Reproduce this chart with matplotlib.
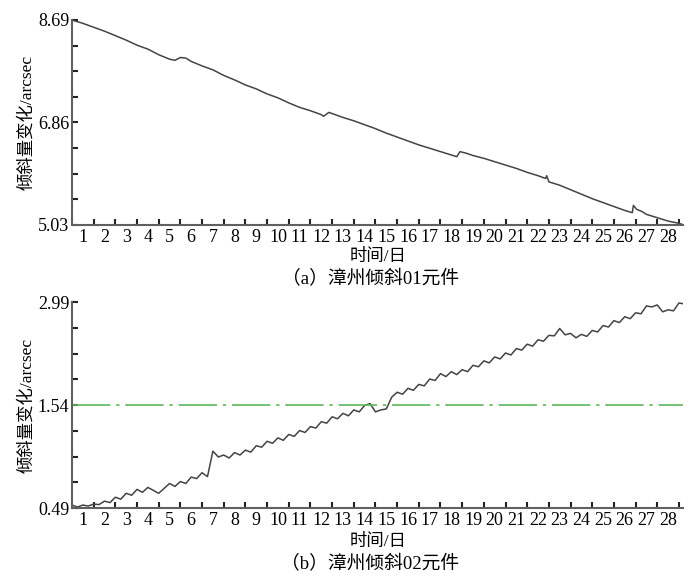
import matplotlib
matplotlib.use('Agg')
import matplotlib.pyplot as plt
import numpy as np

plt.rcParams['font.family'] = ['Liberation Serif', 'Noto Sans CJK SC']

# (a) 漳州倾斜01元件, 读图估计
top_days = [0, 0.5, 1, 1.5, 2, 2.5, 3, 3.5, 4, 4.5, 4.75, 5, 5.25, 5.5, 6, 6.5, 7,
            7.5, 8, 8.5, 9, 9.5, 10, 10.5, 11, 11.5, 11.6, 11.85, 12, 12.5, 13,
            13.5, 14, 14.5, 15, 15.5, 16, 16.5, 17, 17.5, 17.75, 17.9, 18.2, 18.5,
            19, 19.5, 20, 20.5, 21, 21.5, 21.85, 21.9, 22.0, 22.5, 23, 23.5, 24,
            24.5, 25, 25.5, 25.85, 25.9, 26.05, 26.3, 26.5, 27, 27.5, 28, 28.15]
top_vals = [8.69, 8.63, 8.56, 8.49, 8.41, 8.33, 8.24, 8.17, 8.07, 7.99, 7.97, 8.02,
            8.01, 7.95, 7.87, 7.80, 7.70, 7.62, 7.53, 7.46, 7.37, 7.30, 7.21, 7.13,
            7.07, 7.00, 6.97, 7.04, 7.02, 6.95, 6.89, 6.82, 6.75, 6.67, 6.60, 6.53,
            6.46, 6.40, 6.34, 6.28, 6.25, 6.34, 6.31, 6.27, 6.22, 6.16, 6.10, 6.04,
            5.97, 5.91, 5.86, 5.91, 5.80, 5.74, 5.66, 5.58, 5.50, 5.43, 5.36, 5.29,
            5.25, 5.38, 5.31, 5.27, 5.22, 5.16, 5.10, 5.06, 5.04]

# (b) 漳州倾斜02元件, 每6小时一个读数
bot_vals = [0.52, 0.50, 0.52, 0.51, 0.53, 0.525, 0.56, 0.545, 0.60, 0.58,
            0.64, 0.62, 0.68, 0.65, 0.70, 0.67, 0.64, 0.69, 0.74, 0.71,
            0.76, 0.74, 0.805, 0.79, 0.85, 0.81, 1.07, 1.01, 1.03, 1.00,
            1.055, 1.03, 1.08, 1.06, 1.125, 1.11, 1.17, 1.15, 1.205, 1.18,
            1.24, 1.22, 1.28, 1.26, 1.32, 1.305, 1.37, 1.355, 1.42, 1.40,
            1.455, 1.43, 1.49, 1.47, 1.535, 1.555, 1.47, 1.49, 1.50, 1.62,
            1.67, 1.65, 1.71, 1.69, 1.75, 1.735, 1.805, 1.79, 1.86, 1.83,
            1.88, 1.85, 1.90, 1.88, 1.945, 1.93, 1.99, 1.97, 2.03, 2.01,
            2.07, 2.05, 2.115, 2.10, 2.16, 2.14, 2.205, 2.19, 2.25, 2.245,
            2.32, 2.255, 2.27, 2.225, 2.26, 2.24, 2.30, 2.285, 2.35, 2.335,
            2.40, 2.38, 2.44, 2.42, 2.48, 2.47, 2.55, 2.54, 2.56, 2.49,
            2.51, 2.50, 2.58, 2.57]
bot_days = np.arange(len(bot_vals)) * 0.25

day_labels = [str(i) for i in range(1, 29)]
threshold = 1.54

fig = plt.figure(figsize=(6.97, 5.79), dpi=100)
ax1 = fig.add_axes([0.1033, 0.6114, 0.877, 0.3541])
ax2 = fig.add_axes([0.1033, 0.1226, 0.877, 0.3558])

spine_c = '#606060'
line_c = '#444444'


def style(ax, lo, hi, labels):
    ax.set_xlim(0, 28.2)
    ax.set_ylim(lo, hi)
    for s in ['top', 'right']:
        ax.spines[s].set_visible(False)
    for s in ['left', 'bottom']:
        ax.spines[s].set_color(spine_c)
        ax.spines[s].set_linewidth(1.5)
    ax.set_xticks(np.arange(1, 29))
    ax.set_xticklabels([])
    ax.set_xticks(np.arange(0.5, 28), minor=True)
    ax.set_xticklabels(day_labels, minor=True)
    ax.tick_params(axis='x', which='major', direction='in', length=4,
                   width=1.5, color='#222222')
    ax.tick_params(axis='x', which='minor', length=0, pad=3, labelsize=13)
    mid = (lo + hi) / 2
    ax.set_yticks([lo, mid, hi])
    ax.set_yticklabels(labels)
    step = (hi - lo) / 8
    ax.set_yticks(lo + step * np.arange(1, 8), minor=True)
    ax.tick_params(axis='y', which='both', direction='in', length=4,
                   width=1.5, color='#222222', pad=2, labelsize=13)
    ax.set_ylabel('倾斜量变化/arcsec', fontsize=12.5, labelpad=2)


ax1.plot(top_days, top_vals, color=line_c, lw=1.1)
style(ax1, 5.03, 8.69, ['5.03', '6.86', '8.69'])

ax2.plot(bot_days, bot_vals, color=line_c, lw=1.1)
ax2.axhline(threshold, color='#5cb85c', lw=1.2, dashes=(23, 3.5, 2, 3.5))
style(ax2, 0.49, 2.59, ['0.49', '1.54', '2.99'])

# 轴标题和分图标题
fig.text(0.542, 0.556, '时间/日', ha='center', va='center', fontsize=12.5)
fig.text(0.542, 0.064, '时间/日', ha='center', va='center', fontsize=12.5)
fig.text(0.531, 0.518, '（a）漳州倾斜01元件', ha='center', va='center', fontsize=13.5)
fig.text(0.531, 0.025, '（b）漳州倾斜02元件', ha='center', va='center', fontsize=13.5)

fig.savefig('out.png', dpi=100)
